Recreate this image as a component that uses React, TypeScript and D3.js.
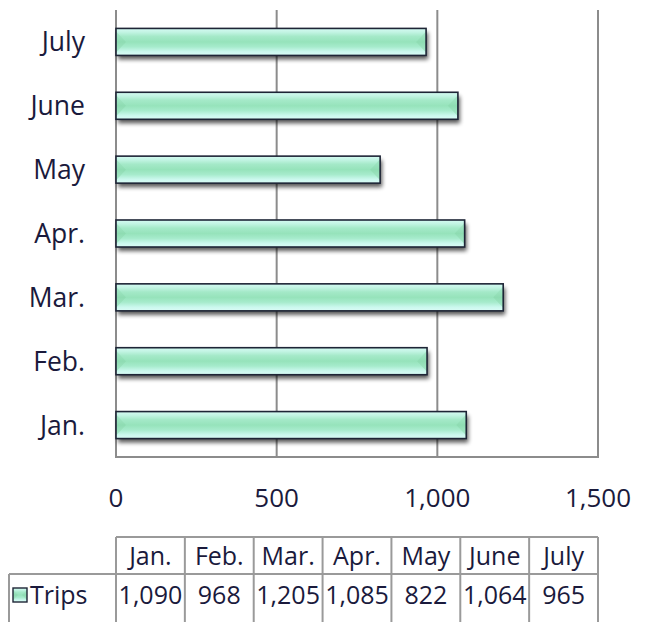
import React from "react";
import * as d3 from "d3";

const categories = ["Jan.", "Feb.", "Mar.", "Apr.", "May", "June", "July"];
const trips = [1090, 968, 1205, 1085, 822, 1064, 965];
const xTicks = [0, 500, 1000, 1500];
const seriesName = "Trips";

const W = 649;
const H = 622;
const FONT = "'Open Sans', Lato, sans-serif";
const TEXT = "#1a1a3c";
const GRID = "#8c8c8c";

export default function App() {
  const left = 116;
  const right = 598;
  const top = 10;
  const bottom = 457;

  const x = d3.scaleLinear().domain([0, 1500]).range([left, right]);
  const y = d3
    .scaleBand<string>()
    .domain([...categories].reverse())
    .range([top, bottom])
    .paddingInner(0.577)
    .paddingOuter(0.2885);

  const bh = y.bandwidth();
  const fmt = d3.format(",");

  // table
  const colX = d3.scaleBand<string>().domain(categories).range([left, right]);
  const tTop = 537;
  const tMid = 574;
  const tBot = 640;
  const legLeft = 9;

  return (
    <svg
      width={W}
      height={H}
      style={{ position: "absolute", left: 0, top: 0, background: "#fff" }}
      fontFamily={FONT}
    >
      <defs>
        <linearGradient id="barGrad" x1="0" y1="0" x2="0" y2="1">
          <stop offset="0%" stopColor="#d6fbf3" />
          <stop offset="14%" stopColor="#c2f4e3" />
          <stop offset="30%" stopColor="#a4e9c8" />
          <stop offset="50%" stopColor="#96e3bb" />
          <stop offset="68%" stopColor="#a6ebcc" />
          <stop offset="86%" stopColor="#cbf8ee" />
          <stop offset="100%" stopColor="#dafcf6" />
        </linearGradient>
        <linearGradient id="endGrad" x1="0" y1="0" x2="0" y2="1">
          <stop offset="0%" stopColor="#a8e9cb" />
          <stop offset="50%" stopColor="#8edcb2" />
          <stop offset="100%" stopColor="#a8e9cb" />
        </linearGradient>
        <filter id="shadow" x="-10%" y="-50%" width="120%" height="200%">
          <feGaussianBlur stdDeviation="2.2" />
        </filter>
      </defs>

      {/* gridlines */}
      {xTicks.map((t) => (
        <line
          key={"g" + t}
          x1={x(t)}
          x2={x(t)}
          y1={top}
          y2={bottom}
          stroke={GRID}
          strokeWidth={2}
        />
      ))}
      <line x1={left - 1} x2={right + 1} y1={bottom} y2={bottom} stroke={GRID} strokeWidth={2} />

      {/* bars */}
      {categories.map((c, i) => {
        const v = trips[i];
        const x0 = x(0);
        const x1 = x(v);
        const y0 = y(c)!;
        const b = Math.min(10, bh / 2.6);
        return (
          <g key={c}>
            <rect
              x={x0 + 2}
              y={y0 + 4}
              width={x1 - x0}
              height={bh}
              fill="#000"
              opacity={0.65}
              filter="url(#shadow)"
            />
            <rect x={x0} y={y0} width={x1 - x0} height={bh} fill="url(#barGrad)" />
            <polygon
              points={`${x0},${y0 + 3} ${x0 + b},${y0 + bh / 2} ${x0},${y0 + bh - 3}`}
              fill="url(#endGrad)"
            />
            <polygon
              points={`${x1},${y0 + 3} ${x1 - b},${y0 + bh / 2} ${x1},${y0 + bh - 3}`}
              fill="url(#endGrad)"
            />
            <rect
              x={x0}
              y={y0}
              width={x1 - x0}
              height={bh}
              fill="none"
              stroke="#1e2536"
              strokeWidth={1.6}
            />
          </g>
        );
      })}

      {/* category labels */}
      {categories.map((c) => (
        <text
          key={"l" + c}
          x={85}
          y={y(c)! + bh / 2}
          dy="0.36em"
          textAnchor="end"
          fontSize={26.5}
          fill={TEXT}
        >
          {c}
        </text>
      ))}

      {/* x tick labels */}
      {xTicks.map((t) => (
        <text
          key={"t" + t}
          x={x(t)}
          y={507}
          textAnchor="middle"
          fontSize={26}
          fill={TEXT}
        >
          {fmt(t)}
        </text>
      ))}

      {/* data table */}
      <g stroke="#9a9a9a" strokeWidth={2} fill="none">
        <line x1={left} x2={right} y1={tTop} y2={tTop} />
        <line x1={legLeft} x2={right} y1={tMid} y2={tMid} />
        <line x1={legLeft} x2={legLeft} y1={tMid} y2={tBot} />
        {categories.map((c) => (
          <line key={"v" + c} x1={colX(c)!} x2={colX(c)!} y1={tTop} y2={tBot} />
        ))}
        <line x1={right} x2={right} y1={tTop} y2={tBot} />
      </g>
      {categories.map((c, i) => (
        <g key={"cell" + c}>
          <text
            x={colX(c)! + colX.bandwidth() / 2}
            y={565}
            textAnchor="middle"
            fontSize={25}
            fill={TEXT}
          >
            {c}
          </text>
          <text
            x={colX(c)! + colX.bandwidth() / 2}
            y={604}
            textAnchor="middle"
            fontSize={25}
            fill={TEXT}
          >
            {fmt(trips[i])}
          </text>
        </g>
      ))}

      {/* legend key */}
      <g>
        <rect x={13} y={588} width={14} height={14} fill="url(#barGrad)" />
        <polygon points={`13,590 18,595 13,600`} fill="url(#endGrad)" />
        <polygon points={`27,590 22,595 27,600`} fill="url(#endGrad)" />
        <rect x={13} y={588} width={14} height={14} fill="none" stroke="#1e2536" strokeWidth={1.4} />
        <text x={30} y={604} fontSize={25} fill={TEXT}>
          {seriesName}
        </text>
      </g>
    </svg>
  );
}
